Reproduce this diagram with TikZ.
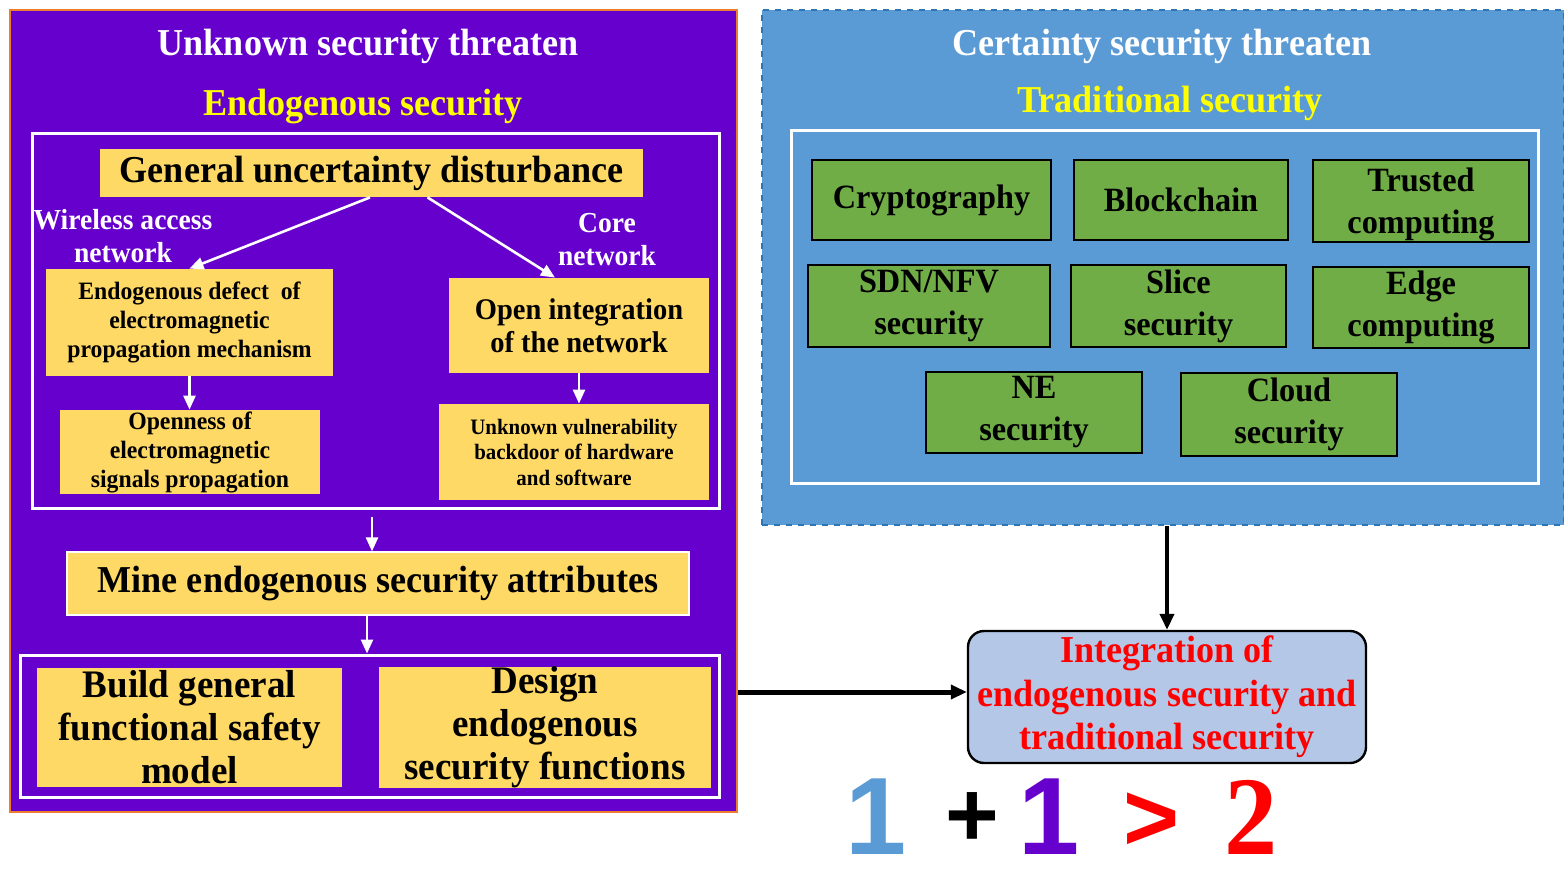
\documentclass[tikz,border=0pt]{standalone}
\usepackage{fontspec}
\setmainfont{Liberation Serif}[FakeStretch=0.95]
\newfontfamily\digitfont{Liberation Sans}
\usepackage{tikz}
\usetikzlibrary{positioning,arrows.meta}
\definecolor{endo}{HTML}{6600CC}
\definecolor{endoframe}{HTML}{ED7D31}
\definecolor{trad}{HTML}{5B9BD5}
\definecolor{tradframe}{HTML}{2E75B6}
\definecolor{attr}{HTML}{FFD966}
\definecolor{tech}{HTML}{70AD47}
\definecolor{merge}{HTML}{B4C7E7}
\definecolor{hilite}{HTML}{FFFF00}
\definecolor{alert}{HTML}{FF0000}

\begin{document}
\begin{tikzpicture}[
  every node/.style={align=center, inner sep=0pt},
  panel/.style={draw=endoframe, line width=1pt, fill=endo},
  tradpanel/.style={draw=tradframe, dashed, line width=0.6pt, fill=trad},
  frame/.style={draw=white, line width=1.5pt},
  headline/.style={text=white, font=\bfseries\fontsize{19}{22}\selectfont},
  subline/.style={text=hilite, font=\bfseries\fontsize{19}{22}\selectfont},
  netlabel/.style={text=white, font=\bfseries\fontsize{14.5}{16.5}\selectfont},
  attrbox/.style={fill=attr, text=black},
  techbox/.style={fill=tech, draw=black, line width=1pt, text=black, font=\bfseries\fontsize{17}{21}\selectfont},
  mergebox/.style={fill=merge, draw=black, line width=1.2pt, rounded corners=8pt, text=alert, font=\bfseries\fontsize{19}{21.75}\selectfont},
  warrow/.style={draw=white, line width=1.3pt, -{Triangle[length=7pt,width=6pt]}},
  barrow/.style={draw=black, line width=2pt, -{Triangle[length=8pt,width=7pt]}},
  bignum/.style={anchor=base, font=\digitfont\bfseries\fontsize{55}{55}\selectfont},
  x=0.5pt, y=-0.5pt
]
  \useasboundingbox (0,0) rectangle (1564,878);

  % endogenous side
  \node[panel, minimum width=363.5pt, minimum height=401pt] (endo) at (373.5,411) {};
  \node[headline] (unknown) at (368,46) {Unknown security threaten};
  \node[subline] (endotitle) at (363,107) {Endogenous security};
  \node[frame, minimum width=343.5pt, minimum height=187.5pt] (sources) at (375.5,320.5) {};

  \node[attrbox, minimum width=271.5pt, minimum height=24pt, font=\bfseries\fontsize{19}{22}\selectfont] (gud) at (371.5,173) {General uncertainty disturbance};
  \node[netlabel] (wireless) at (123,236) {Wireless access\\network};
  \node[netlabel] (core) at (607,240) {Core\\network};

  \node[attrbox, minimum width=143.5pt, minimum height=53.5pt, font=\bfseries\fontsize{12.5}{14.5}\selectfont] (defect) at (189.5,322.5) {Endogenous defect\ \ of\\electromagnetic\\propagation mechanism};
  \node[attrbox, minimum width=130pt, minimum height=42pt, font=\bfseries\fontsize{12.5}{14.5}\selectfont] (openness) at (190,452) {Openness of\\electromagnetic\\signals propagation};
  \node[attrbox, minimum width=130pt, minimum height=47.5pt, font=\bfseries\fontsize{15}{16.5}\selectfont] (openint) at (579,325.5) {Open integration\\of the network};
  \node[attrbox, minimum width=135pt, minimum height=48pt, font=\bfseries\fontsize{11}{12.75}\selectfont] (backdoor) at (574,452) {Unknown vulnerability\\backdoor of hardware\\and software};

  \draw[warrow] ([xshift=-0.75pt]gud.south) -- (defect.north);
  \draw[warrow] ([xshift=28pt]gud.south) -- ([xshift=-12pt]openint.north);
  \draw[warrow] (defect.south) -- (defect.south |- openness.north);
  \draw[warrow] (openint.south) -- (openint.south |- backdoor.north);

  \node[attrbox, minimum width=311pt, minimum height=31.5pt, draw=white, line width=0.6pt, font=\bfseries\fontsize{19}{22}\selectfont] (mine) at (378,583.5) {Mine endogenous security attributes};
  \draw[warrow] ([xshift=-1.75pt,yshift=-3.5pt]sources.south) -- ([xshift=-1.75pt]sources.south |- mine.north);

  \node[frame, minimum width=349.5pt, minimum height=71pt] (measures) at (369.5,726) {};
  \draw[warrow] ([xshift=-5.5pt]mine.south) -- ([xshift=-5.5pt]mine.south |- measures.north);
  \node[attrbox, minimum width=152.5pt, minimum height=59.5pt, font=\bfseries\fontsize{19.5}{21.5}\selectfont] (model) at (189.5,727.5) {Build general\\functional safety\\model};
  \node[attrbox, minimum width=166pt, minimum height=59.5pt, font=\bfseries\fontsize{19.5}{21.5}\selectfont] (design) at (545,727.5) {Design\\endogenous\\security functions};

  % traditional side
  \node[tradpanel, minimum width=401pt, minimum height=257.5pt] (trad) at (1163,267.5) {};
  \node[headline] (certainty) at (1162,46) {Certainty security threaten};
  \node[subline] (tradtitle) at (1170,103) {Traditional security};
  \node[frame, minimum width=373.5pt, minimum height=176.5pt] (methods) at (1164.5,306.5) {};

  \node[techbox, minimum width=119.5pt, minimum height=40pt] (crypto) at (931.5,200) {Cryptography};
  \node[techbox, minimum width=107pt, minimum height=40pt] (chain) at (1181,200) {Blockchain};
  \node[techbox, minimum width=108pt, minimum height=41pt, text depth=0pt] (trusted) at (1421,201) {Trusted\\computing};
  \node[techbox, minimum width=121pt, minimum height=41pt] (sdn) at (929,306) {SDN/NFV\\security};
  \node[techbox, minimum width=107.5pt, minimum height=41pt] (slice) at (1178.5,306) {Slice\\security};
  \node[techbox, minimum width=108pt, minimum height=40.5pt] (edge) at (1421,307.5) {Edge\\computing};
  \node[techbox, minimum width=108pt, minimum height=40.5pt] (ne) at (1034,412.5) {NE\\security};
  \node[techbox, minimum width=108pt, minimum height=41.5pt] (cloud) at (1289,414.5) {Cloud\\security};

  % integration
  \node[mergebox, minimum width=199pt, minimum height=66pt] (integ) at (1167,697) {Integration of\\endogenous security and\\traditional security};
  \draw[barrow] (integ.north |- trad.south) -- (integ.north);
  \draw[barrow, line width=2.5pt] (endo.east |- 0,692) -- (integ.west |- 0,692);

  % 1+1>2
  \node[bignum, text=trad] (oneA) at (876,854) {1};
  \node[bignum, text=black, font=\digitfont\bfseries\fontsize{46}{46}\selectfont] (plus) at (972,846) {+};
  \node[bignum, text=endo] (oneB) at (1049,854) {1};
  \node[bignum, text=alert, font=\digitfont\bfseries\fontsize{48}{48}\selectfont] (gt) at (1152,850) {>};
  \node[bignum, text=alert, font=\bfseries\fontsize{56}{56}\selectfont] (two) at (1251,854) {2};
\end{tikzpicture}
\end{document}
